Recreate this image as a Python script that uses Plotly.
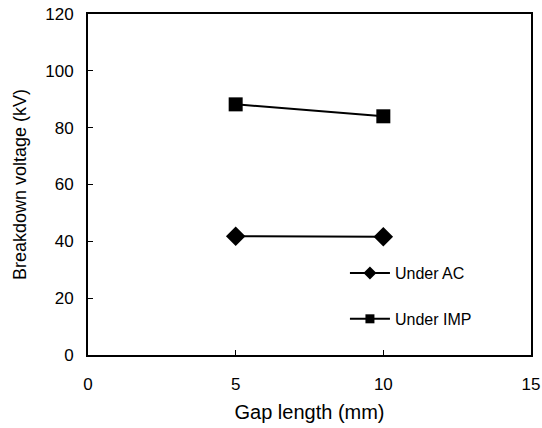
import plotly.graph_objects as go

gap = [5, 10]
ac = [41.8, 41.6]
imp = [88.2, 84.0]
names = ["Under AC", "Under IMP"]

fig = go.Figure()
fig.add_trace(go.Scatter(x=gap, y=ac, name=names[0], mode="lines+markers",
                         line=dict(color="black", width=2),
                         marker=dict(symbol="diamond", size=15, color="black"),
                         showlegend=False))
fig.add_trace(go.Scatter(x=gap, y=imp, name=names[1], mode="lines+markers",
                         line=dict(color="black", width=2),
                         marker=dict(symbol="square", size=14, color="black"),
                         showlegend=False))
# legend entries with smaller symbols, as in the reference
fig.add_trace(go.Scatter(x=[None], y=[None], name=names[0], mode="lines+markers",
                         line=dict(color="black", width=2),
                         marker=dict(symbol="diamond", size=10, color="black"),
                         legendgroup="a"))
fig.add_trace(go.Scatter(x=[None], y=[None], name=names[1], mode="lines+markers",
                         line=dict(color="black", width=2),
                         marker=dict(symbol="square", size=9, color="black"),
                         legendgroup="b"))

axis_common = dict(showline=True, linecolor="black", linewidth=2, mirror=True,
                   ticks="inside", ticklen=5, tickcolor="black", showgrid=False,
                   zeroline=False, automargin=False, ticklabeloverflow="allow",
                   tickfont=dict(size=17, color="black"))
fig.update_xaxes(range=[0, 15], dtick=5,
                 title=dict(text="Gap length (mm)", font=dict(size=20, color="black"), standoff=12),
                 ticklabelstandoff=13, **axis_common)
fig.update_yaxes(range=[0, 120], dtick=20,
                 title=dict(text="Breakdown voltage (kV)", font=dict(size=18, color="black"), standoff=14),
                 ticklabelstandoff=9, **axis_common)

fig.update_layout(
    width=542, height=428,
    margin=dict(l=88, r=11, t=14, b=73),
    plot_bgcolor="white", paper_bgcolor="white",
    font=dict(family="Liberation Sans, Arial, sans-serif", color="black"),
    legend=dict(x=0.58, y=0.29, xanchor="left", yanchor="top",
                font=dict(size=16, color="black"), tracegroupgap=22,
                bgcolor="rgba(0,0,0,0)", itemwidth=40),
)
fig.write_html("out.html", config={"displayModeBar": False},
               post_script="document.body.style.margin='0';document.body.style.overflow='hidden';")
